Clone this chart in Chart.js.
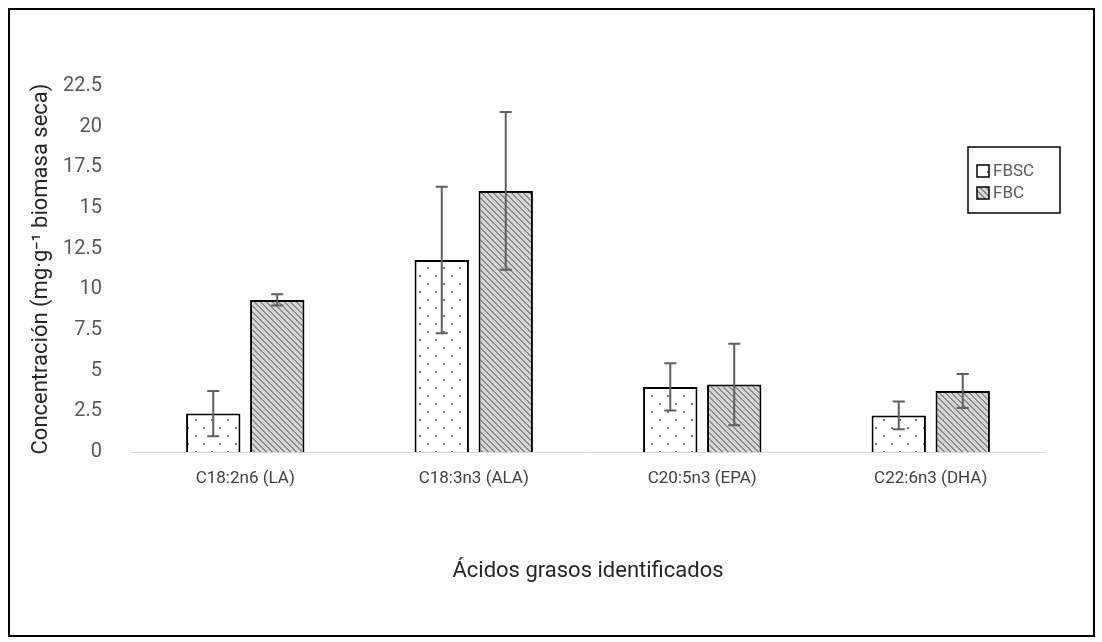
<!DOCTYPE html>
<html>
<head>
<meta charset="utf-8">
<script src="https://cdn.jsdelivr.net/npm/chart.js@4.4.1/dist/chart.umd.min.js"></script>
<style>
  body { margin: 0; background: #fff; }
  #wrap { position: relative; width: 1102px; height: 642px; }
  #frame { position: absolute; left: 8px; top: 8px; width: 1083px; height: 625px; border: 2px solid #000; }
  canvas { position: absolute; left: 0; top: 0; }
</style>
</head>
<body>
<div id="wrap">
  <div id="frame"></div>
  <canvas id="chart" width="1102" height="642"></canvas>
</div>
<script>
// Fatty acids found in each treatment
const categories = ['C18:2n6 (LA)', 'C18:3n3 (ALA)', 'C20:5n3 (EPA)', 'C22:6n3 (DHA)'];
const seriesNames = ['FBSC', 'FBC'];
const fbscValues = [2.36, 11.8, 4.0, 2.25];
const fbscErrors = [1.39, 4.5, 1.45, 0.85];
const fbcValues = [9.35, 16.05, 4.15, 3.75];
const fbcErrors = [0.35, 4.85, 2.5, 1.05];
const yTicks = [0, 2.5, 5, 7.5, 10, 12.5, 15, 17.5, 20, 22.5];

// dotted fill for FBSC
const makeDots = () => {
  const c = document.createElement('canvas');
  c.width = 16; c.height = 16;
  const g = c.getContext('2d');
  g.fillStyle = '#fff';
  g.fillRect(0, 0, 16, 16);
  g.fillStyle = '#7a7a7a';
  g.fillRect(3, 3, 2, 2);
  g.fillRect(11, 11, 2, 2);
  return g.createPattern(c, 'repeat');
};

// diagonal hatch for FBC
const makeHatch = () => {
  const n = 6;
  const c = document.createElement('canvas');
  c.width = n; c.height = n;
  const g = c.getContext('2d');
  g.fillStyle = '#d6d6d6';
  g.fillRect(0, 0, n, n);
  g.fillStyle = '#8a8a8a';
  for (let i = 0; i < n; i++) {
    g.fillRect(i, i, 1, 1);
    g.fillRect((i + 1) % n, i, 1, 1);
  }
  return g.createPattern(c, 'repeat');
};

const dots = makeDots();
const hatch = makeHatch();
const errors = [fbscErrors, fbcErrors];

// draws the +/- error bars over each bar
const errorBars = {
  id: 'errorBars',
  afterDatasetsDraw(chart) {
    const ctx = chart.ctx;
    const y = chart.scales.y;
    ctx.save();
    ctx.strokeStyle = '#5f5f5f';
    ctx.lineWidth = 2;
    chart.data.datasets.forEach((ds, di) => {
      chart.getDatasetMeta(di).data.forEach((bar, i) => {
        const v = ds.data[i];
        const e = errors[di][i];
        const top = y.getPixelForValue(v + e);
        const bot = y.getPixelForValue(v - e);
        ctx.beginPath();
        ctx.moveTo(bar.x, top); ctx.lineTo(bar.x, bot);
        ctx.moveTo(bar.x - 6, top); ctx.lineTo(bar.x + 6, top);
        ctx.moveTo(bar.x - 6, bot); ctx.lineTo(bar.x + 6, bot);
        ctx.stroke();
      });
    });
    ctx.restore();
  }
};

// boxed legend inside the plot, like the original
const boxLegend = {
  id: 'boxLegend',
  afterDraw(chart) {
    const ctx = chart.ctx;
    const x0 = 968, y0 = 147, w = 92, h = 66;
    ctx.save();
    ctx.fillStyle = '#fff';
    ctx.fillRect(x0, y0, w, h);
    ctx.strokeStyle = '#000';
    ctx.lineWidth = 1.5;
    ctx.strokeRect(x0, y0, w, h);
    ctx.font = '17px Roboto';
    ctx.textBaseline = 'middle';
    chart.data.datasets.forEach((ds, i) => {
      const cy = y0 + 24 + i * 22;
      ctx.fillStyle = ds.backgroundColor;
      ctx.fillRect(977, cy - 6, 12, 12);
      ctx.strokeRect(977, cy - 6, 12, 12);
      ctx.fillStyle = '#595959';
      ctx.fillText(ds.label, 993, cy + 1);
    });
    ctx.restore();
  }
};

new Chart(document.getElementById('chart'), {
  type: 'bar',
  data: {
    labels: categories,
    datasets: [
      { label: seriesNames[0], data: fbscValues, backgroundColor: dots, borderColor: '#000', borderWidth: 2 },
      { label: seriesNames[1], data: fbcValues, backgroundColor: hatch, borderColor: '#000', borderWidth: 2 }
    ]
  },
  options: {
    responsive: false,
    animation: false,
    layout: { padding: { left: 26, right: 57, top: 86, bottom: 53 } },
    datasets: { bar: { categoryPercentage: 0.56, barPercentage: 0.85 } },
    plugins: { legend: { display: false }, tooltip: { enabled: false } },
    scales: {
      x: {
        afterFit: (axis) => { axis.height = 137; },
        grid: { display: false },
        border: { display: true, color: '#d9d9d9', width: 1 },
        ticks: { color: '#404040', font: { family: 'Roboto', size: 17 }, padding: 9 },
        title: { display: true, text: 'Ácidos grasos identificados', color: '#262626', font: { family: 'Roboto', size: 22 }, padding: { top: 4, bottom: 4 } }
      },
      y: {
        min: 0, max: 22.5,
        afterFit: (axis) => { axis.width = 105; },
        afterBuildTicks: (axis) => { axis.ticks = yTicks.map(v => ({ value: v })); },
        grid: { display: false },
        border: { display: false },
        ticks: { color: '#595959', font: { family: 'Roboto', size: 20 }, padding: 21, callback: v => String(v) },
        title: { display: true, text: 'Concentración (mg·g⁻¹ biomasa seca)', color: '#262626', font: { family: 'Roboto', size: 22 }, padding: { top: 2, bottom: 4 } }
      }
    }
  },
  plugins: [errorBars, boxLegend]
});
</script>
</body>
</html>
